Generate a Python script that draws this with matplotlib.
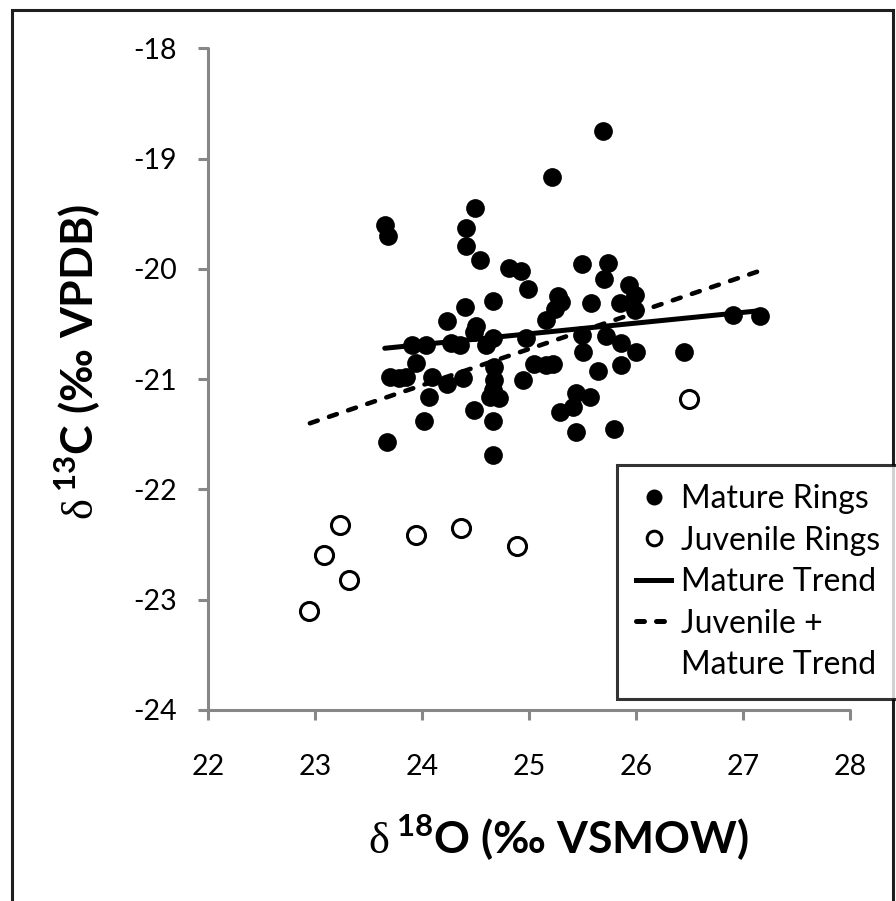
import matplotlib
matplotlib.use('Agg')
import matplotlib.pyplot as plt
from matplotlib.lines import Line2D
from matplotlib.patches import Rectangle

plt.rcParams['font.family'] = ['Lato', 'DejaVu Sans']
plt.rcParams['mathtext.fontset'] = 'custom'
plt.rcParams['mathtext.rm'] = 'Liberation Serif'
plt.rcParams['mathtext.bf'] = 'Lato:bold'

# ---- data ----
mature_x = [25.21, 25.69, 24.49, 23.65, 23.68, 24.41, 24.41, 24.54, 24.81, 24.92,
            24.99, 24.66, 24.40, 24.23, 24.50, 25.16, 25.27, 25.24, 25.49, 25.74,
            25.70, 25.58, 25.93, 25.99, 25.85, 25.99, 26.91, 27.16, 23.90, 24.04,
            24.27, 24.35, 24.48, 24.60, 24.66, 24.97, 23.94, 23.70, 23.78, 23.85,
            24.09, 24.23, 24.38, 24.06, 24.02, 23.67, 24.48, 24.67, 24.67, 24.66,
            24.63, 24.72, 24.66, 24.66, 24.94, 25.05, 25.16, 25.49, 25.72, 25.86,
            26.00, 25.50, 26.45, 25.22, 25.64, 25.86, 25.44, 25.57, 25.41, 25.29,
            25.44, 25.79, 25.30]
mature_y = [-19.17, -18.75, -19.45, -19.60, -19.70, -19.63, -19.79, -19.92, -19.99, -20.02,
            -20.18, -20.29, -20.35, -20.47, -20.52, -20.46, -20.25, -20.36, -19.96, -19.95,
            -20.09, -20.31, -20.15, -20.24, -20.31, -20.37, -20.42, -20.43, -20.69, -20.69,
            -20.67, -20.69, -20.57, -20.69, -20.63, -20.63, -20.85, -20.98, -20.99, -20.98,
            -20.98, -21.04, -20.99, -21.16, -21.38, -21.57, -21.28, -20.89, -21.01, -21.10,
            -21.16, -21.17, -21.38, -21.69, -21.01, -20.86, -20.87, -20.60, -20.61, -20.67,
            -20.75, -20.75, -20.75, -20.86, -20.93, -20.87, -21.13, -21.16, -21.25, -21.30,
            -21.48, -21.45, -20.30]

juvenile_x = [23.23, 23.08, 23.32, 22.94, 23.94, 24.36, 24.89, 26.49]
juvenile_y = [-22.32, -22.59, -22.82, -23.10, -22.41, -22.35, -22.51, -21.18]

mature_trend_x = [23.65, 27.15]
mature_trend_y = [-20.72, -20.38]
combined_trend_x = [22.95, 27.15]
combined_trend_y = [-21.40, -20.02]

x_ticks = [22, 23, 24, 25, 26, 27, 28]
y_ticks = [-24, -23, -22, -21, -20, -19, -18]

legend_labels = ['Mature Rings', 'Juvenile Rings', 'Mature Trend', 'Juvenile +', 'Mature Trend']

W, H = 896, 901
fig = plt.figure(figsize=(W / 100, H / 100), dpi=100)
ax = fig.add_axes([208.3 / W, 1 - 710 / H, (850 - 208.3) / W, (710 - 48.3) / H])

grey = '#878787'

ax.plot(mature_x, mature_y, 'o', color='black', markersize=13.5, markeredgewidth=0, zorder=3)
ax.plot(juvenile_x, juvenile_y, 'o', markerfacecolor='white', markeredgecolor='black',
        markersize=13, markeredgewidth=2.2, zorder=3)
ax.plot(mature_trend_x, mature_trend_y, '-', color='black', linewidth=3.6,
        solid_capstyle='round', zorder=4)
ax.plot(combined_trend_x, combined_trend_y, color='black', linewidth=3.3,
        dashes=(1.8, 2.6), dash_capstyle='round', zorder=4)

ax.set_xlim(22, 28)
ax.set_ylim(-24, -18)
ax.set_xticks(x_ticks)
ax.set_yticks(y_ticks)
ax.set_xticklabels([str(v) for v in x_ticks])
ax.set_yticklabels([str(v) for v in y_ticks])
for s in ['top', 'right']:
    ax.spines[s].set_visible(False)
for s in ['left', 'bottom']:
    ax.spines[s].set_color(grey)
    ax.spines[s].set_linewidth(2.2)
    ax.spines[s].set_capstyle('round')
ax.tick_params(axis='both', direction='out', length=7.5, width=2.2, color=grey,
               labelsize=20.5, labelcolor='black')
ax.tick_params(axis='y', pad=15)
ax.tick_params(axis='x', pad=24)

# axis titles
fig.text(559 / W, 1 - 854 / H, r'$\mathrm{\delta}\,^{\mathbf{18}}$O (‰ VSMOW)',
         ha='center', va='baseline', fontsize=32, fontweight='bold')
fig.text(78 / W, 1 - 362 / H, r'$\mathrm{\delta}\,^{\mathbf{13}}$C (‰ VPDB)',
         ha='center', va='center', rotation=90, fontsize=32, fontweight='bold')

# legend
handles = [
    Line2D([], [], marker='o', linestyle='none', color='black', markersize=11.5, markeredgewidth=0),
    Line2D([], [], marker='o', linestyle='none', markerfacecolor='white',
           markeredgecolor='black', markersize=10.5, markeredgewidth=2.2),
    Line2D([], [], color='black', linewidth=3.6),
    Line2D([], [], color='black', linewidth=3.6, dashes=(1.6, 2.4), dash_capstyle='round'),
    Line2D([], [], color='none', linewidth=0),
]
leg = fig.legend(handles, legend_labels, loc='upper left',
                 bbox_to_anchor=(617 / W, 1 - 465 / H), bbox_transform=fig.transFigure,
                 fontsize=23, frameon=True, fancybox=False, edgecolor='black',
                 handlelength=1.1, handletextpad=0.3, borderpad=0.6, labelspacing=0.36,
                 borderaxespad=0)
leg.get_frame().set_linewidth(2.2)
leg.get_frame().set_facecolor('white')
leg.set_zorder(10)

# outer frame of the picture
fig.patches.append(Rectangle((12.3 / W, -0.02), (893 - 12.3) / W, 1.02 - 10 / H,
                             transform=fig.transFigure, fill=False,
                             edgecolor='#1e1e1e', linewidth=2.2, zorder=0))

fig.savefig('out.png', dpi=100)
